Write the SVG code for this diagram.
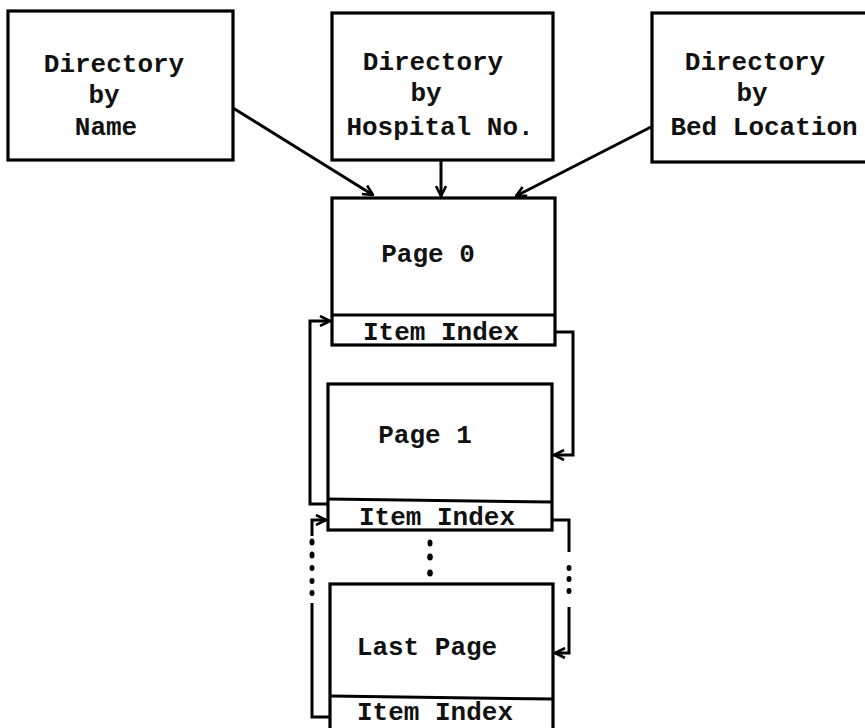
<svg xmlns="http://www.w3.org/2000/svg" width="865" height="728" viewBox="0 0 865 728">
  <defs>
    <marker id="arrow" viewBox="0 0 12 12" refX="11" refY="6" markerWidth="12" markerHeight="12" markerUnits="userSpaceOnUse" orient="auto">
      <path d="M1,1 L11,6 L1,11" fill="none" stroke="#000" stroke-width="2.6" stroke-linejoin="miter"/>
    </marker>
    <style>
      .box { fill: #fff; stroke: #000; stroke-width: 3.2; }
      .div { stroke: #000; stroke-width: 3; }
      .lbl { font-family: "Liberation Mono", "Courier New", monospace; font-size: 26px; font-weight: bold; fill: #111; text-anchor: middle; }
      .conn { fill: none; stroke: #000; stroke-width: 3; stroke-linejoin: miter; }
      .dot { fill: #000; }
    </style>
  </defs>

  <rect width="865" height="728" fill="#fff"/>

  <!-- Directories -->
  <g id="dir-name">
    <rect class="box" x="8" y="11" width="225" height="149"/>
    <text class="lbl" x="114" y="72">Directory</text>
    <text class="lbl" x="104" y="103">by</text>
    <text class="lbl" x="106" y="135">Name</text>
  </g>
  <g id="dir-hospital">
    <rect class="box" x="332" y="13" width="221" height="147"/>
    <text class="lbl" x="433" y="70">Directory</text>
    <text class="lbl" x="426" y="101">by</text>
    <text class="lbl" x="440" y="135">Hospital No.</text>
  </g>
  <g id="dir-bed">
    <rect class="box" x="652" y="13" width="220" height="149"/>
    <text class="lbl" x="755" y="70">Directory</text>
    <text class="lbl" x="752" y="101">by</text>
    <text class="lbl" x="764" y="135">Bed Location</text>
  </g>

  <!-- Pages -->
  <g id="page0">
    <rect class="box" x="332" y="198" width="223" height="147"/>
    <line class="div" x1="332" y1="315" x2="555" y2="315"/>
    <text class="lbl" x="428" y="262">Page 0</text>
    <text class="lbl" x="441" y="340">Item Index</text>
  </g>
  <g id="page1">
    <rect class="box" x="328" y="384" width="224" height="146"/>
    <line class="div" x1="328" y1="499" x2="552" y2="502"/>
    <text class="lbl" x="425" y="443">Page 1</text>
    <text class="lbl" x="437" y="525">Item Index</text>
  </g>
  <g id="last-page">
    <rect class="box" x="330" y="584" width="223" height="160"/>
    <line class="div" x1="330" y1="696" x2="553" y2="699"/>
    <text class="lbl" x="427" y="655">Last Page</text>
    <text class="lbl" x="435" y="720">Item Index</text>
  </g>

  <!-- Connectors -->
  <g id="connectors">
    <line class="conn" x1="233" y1="108" x2="373" y2="195" marker-end="url(#arrow)"/>
    <line class="conn" x1="441" y1="160" x2="441" y2="196" marker-end="url(#arrow)"/>
    <line class="conn" x1="651" y1="127" x2="516" y2="196" marker-end="url(#arrow)"/>

    <!-- page 1 back to page 0 -->
    <path class="conn" d="M328,504 H310 V321 H330" marker-end="url(#arrow)"/>
    <!-- page 0 forward to page 1 -->
    <path class="conn" d="M555,332 H573 V455 H554" marker-end="url(#arrow)"/>

    <!-- last page back to page 1 -->
    <path class="conn" d="M330,717 H312 V603"/>
    <path class="conn" d="M312,536 V520 H326" marker-end="url(#arrow)"/>
    <ellipse class="dot" cx="312" cy="542" rx="2.5" ry="3.5"/>
    <ellipse class="dot" cx="312" cy="555" rx="2.5" ry="3.5"/>
    <ellipse class="dot" cx="312" cy="568" rx="2.5" ry="3"/>
    <ellipse class="dot" cx="312" cy="581" rx="2.5" ry="3"/>
    <ellipse class="dot" cx="312" cy="593" rx="2.5" ry="3"/>

    <!-- page 1 forward to last page -->
    <path class="conn" d="M552,520 H569 V552"/>
    <path class="conn" d="M569,607 V653 H555" marker-end="url(#arrow)"/>
    <ellipse class="dot" cx="569" cy="568" rx="2.5" ry="3"/>
    <ellipse class="dot" cx="569" cy="579" rx="2.5" ry="3"/>
    <ellipse class="dot" cx="569" cy="591" rx="2.5" ry="3"/>

    <!-- continuation dots between pages -->
    <ellipse class="dot" cx="430" cy="543" rx="2.5" ry="3.5"/>
    <ellipse class="dot" cx="430" cy="557" rx="2.8" ry="3.5"/>
    <ellipse class="dot" cx="430" cy="573" rx="2.8" ry="3.5"/>
  </g>
</svg>
